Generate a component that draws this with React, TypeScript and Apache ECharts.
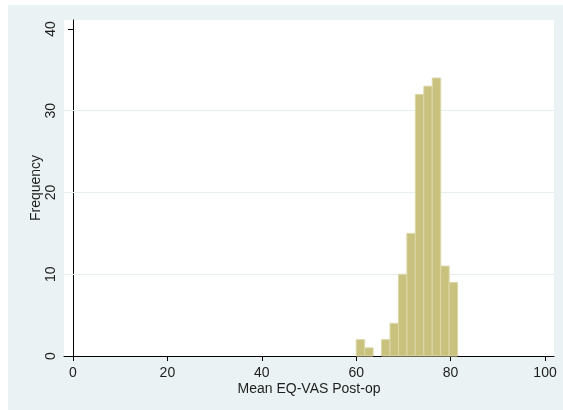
import React, { useEffect, useRef } from "react";
import * as echarts from "echarts";

const binStart = 60.0;
const binWidth = 1.79;
const counts = [2, 1, 0, 2, 4, 10, 15, 32, 33, 34, 11, 9];
const xTicks = [0, 20, 40, 60, 80, 100];
const gridValues = [10, 20, 30];
const xTitle = "Mean EQ-VAS Post-op";
const yTitle = "Frequency";

export default function App() {
  const ref = useRef<HTMLDivElement>(null);
  useEffect(() => {
    if (!ref.current) return;
    const chart = echarts.init(ref.current, null, { renderer: "svg" });
    const data = counts.map((c, i) => [binStart + i * binWidth, binStart + (i + 1) * binWidth, c]);
    const font = "Liberation Sans, Arial, sans-serif";
    const txt = "#1e1e1e";
    chart.setOption({
      animation: false,
      graphic: [
        { type: "rect", shape: { x: 8, y: 5, width: 555, height: 405 }, style: { fill: "#eaf2f3" }, z: -10 },
      ],
      grid: { left: 64, right: 9, top: 20, bottom: 54, show: true, backgroundColor: "#ffffff", borderWidth: 0 },
      xAxis: {
        type: "value",
        min: -1.9,
        max: 101.9,
        name: xTitle,
        nameLocation: "middle",
        nameGap: 25,
        nameMoveOverlap: false,
        nameTextStyle: { fontFamily: font, fontSize: 14, color: txt },
        axisLine: { show: true, lineStyle: { color: "#000", width: 1 } },
        axisTick: { show: true, customValues: xTicks, length: 5, lineStyle: { color: "#000" } },
        axisLabel: { customValues: xTicks, margin: 9, fontFamily: font, fontSize: 14, color: txt },
        splitLine: { show: false },
      },
      yAxis: {
        type: "value",
        min: 0,
        max: 41.1,
        interval: 10,
        name: yTitle,
        nameLocation: "middle",
        nameGap: 22,
        nameMoveOverlap: false,
        nameTextStyle: { fontFamily: font, fontSize: 14, color: txt },
        axisLine: { show: true, lineStyle: { color: "#000", width: 1 } },
        axisTick: { show: true, length: 5, inside: false, lineStyle: { color: "#000" } },
        axisLabel: { rotate: 90, margin: 7, fontFamily: font, fontSize: 14, color: txt, showMaxLabel: false },
        splitLine: { show: false },
      },
      series: [
        {
          type: "custom",
          data,
          encode: { x: [0, 1], y: 2 },
          z: 3,
          renderItem: (params: any, api: any) => {
            const y = api.value(2);
            if (!y) return null;
            const p0 = api.coord([api.value(0), y]);
            const p1 = api.coord([api.value(1), 0]);
            return {
              type: "rect",
              shape: { x: p0[0], y: p0[1], width: p1[0] - p0[0], height: p1[1] - p0[1] },
              style: { fill: "#c9c27e", stroke: "#dcd7a8", lineWidth: 1 },
            };
          },
          markLine: {
            silent: true,
            symbol: "none",
            label: { show: false },
            z: 1,
            lineStyle: { color: "#e6eeee", width: 1, type: "solid" },
            data: gridValues.map((v) => ({ yAxis: v })),
          },
        },
      ],
    });
    return () => chart.dispose();
  }, []);
  return <div ref={ref} style={{ position: "fixed", left: 0, top: 0, width: 563, height: 410 }} />;
}
